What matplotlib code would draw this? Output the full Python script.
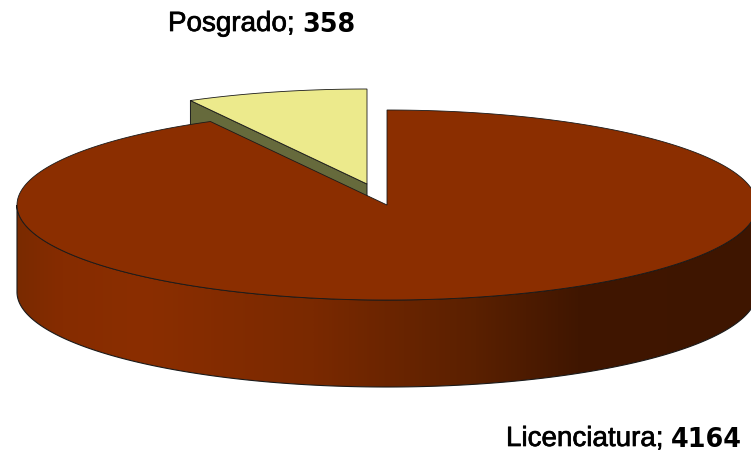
import numpy as np
import matplotlib
matplotlib.use("Agg")
import matplotlib.pyplot as plt
import matplotlib.patheffects as pe
from matplotlib.colors import LinearSegmentedColormap
from matplotlib.patches import Polygon

categories = ["Posgrado", "Licenciatura"]
values = [358, 4164]

# pie geometry in pixels, image has y going down
CX, CY = 387, 206
RX, RY = 370, 95
DEPTH = 87
EXPLODE = (-20, -21)

TOP_MAIN = "#8b2e00"
TOP_SLICE = "#ecea8c"
SIDE_SLICE = "#666a3c"
EDGE = "#1a1a1a"


def ellipse_pts(a0, a1, cx=CX, cy=CY, n=300):
    # angle measured clockwise from 12 o'clock
    t = np.radians(np.linspace(a0, a1, n))
    return np.column_stack([cx + RX * np.sin(t), cy - RY * np.cos(t)])


def draw_text(ax, x, y, label, value):
    t1 = ax.text(x, y, f"{label};", fontsize=20, color="black", va="baseline", ha="left")
    # the reference label is a bit heavier than Liberation regular
    t1.set_path_effects([pe.withStroke(linewidth=0.5, foreground="black")])
    bb = t1.get_window_extent(ax.figure.canvas.get_renderer())
    # number is heavier and wider than the label, DejaVu bold is closest
    ax.text(bb.x1 + 8, y, str(value), fontsize=18.4, fontweight="bold", family="DejaVu Sans",
            color="black", va="baseline", ha="left")


plt.rcParams["font.family"] = ["Liberation Sans", "DejaVu Sans"]

fig = plt.figure(figsize=(7.51, 4.52), dpi=100)
ax = fig.add_axes([0, 0, 1, 1])
ax.set_xlim(0, 751)
ax.set_ylim(452, 0)
ax.axis("off")

slice_angle = 360 * values[0] / sum(values)

# exploded slice, the main pie covers most of its side
scx, scy = CX + EXPLODE[0], CY + EXPLODE[1]
arc = ellipse_pts(-slice_angle, 0, scx, scy)
left = arc[0]
side = [left, (scx, scy), (scx, scy + DEPTH), (left[0], left[1] + DEPTH)]
ax.add_patch(Polygon(side, closed=True, fc=SIDE_SLICE, ec=EDGE, lw=0.7, zorder=1))
top = np.vstack([[(scx, scy)], arc])
ax.add_patch(Polygon(top, closed=True, fc=TOP_SLICE, ec=EDGE, lw=0.6, zorder=2))

# main pie side wall with horizontal gradient
front = ellipse_pts(90, 270)
wall = np.vstack([front, front[::-1] + [0, DEPTH]])
cmap = LinearSegmentedColormap.from_list(
    "wall",
    [
        (0.0, "#7a2a00"),
        (0.06, "#862c00"),
        (0.17, "#8b2e00"),
        (0.40, "#7a2900"),
        (0.62, "#5a2000"),
        (0.76, "#401600"),
        (1.0, "#3e1500"),
    ],
)
grad = np.linspace(0, 1, 512).reshape(1, -1)
wall_patch = Polygon(wall, closed=True, fc="none", ec=EDGE, lw=0.8, zorder=4)
ax.add_patch(wall_patch)
im = ax.imshow(
    grad,
    cmap=cmap,
    extent=(CX - RX, CX + RX, CY + RY + DEPTH, CY),
    aspect="auto",
    interpolation="bilinear",
    zorder=3,
)
im.set_clip_path(wall_patch)
ax.set_xlim(0, 751)
ax.set_ylim(452, 0)

# main pie top
main_arc = ellipse_pts(0, 360 - slice_angle)
main_top = np.vstack([[(CX, CY)], main_arc])
ax.add_patch(Polygon(main_top, closed=True, fc=TOP_MAIN, ec=EDGE, lw=0.6, zorder=5))

draw_text(ax, 168, 32, categories[0], values[0])
draw_text(ax, 506, 447, categories[1], values[1])

fig.savefig("out.png", dpi=100)
